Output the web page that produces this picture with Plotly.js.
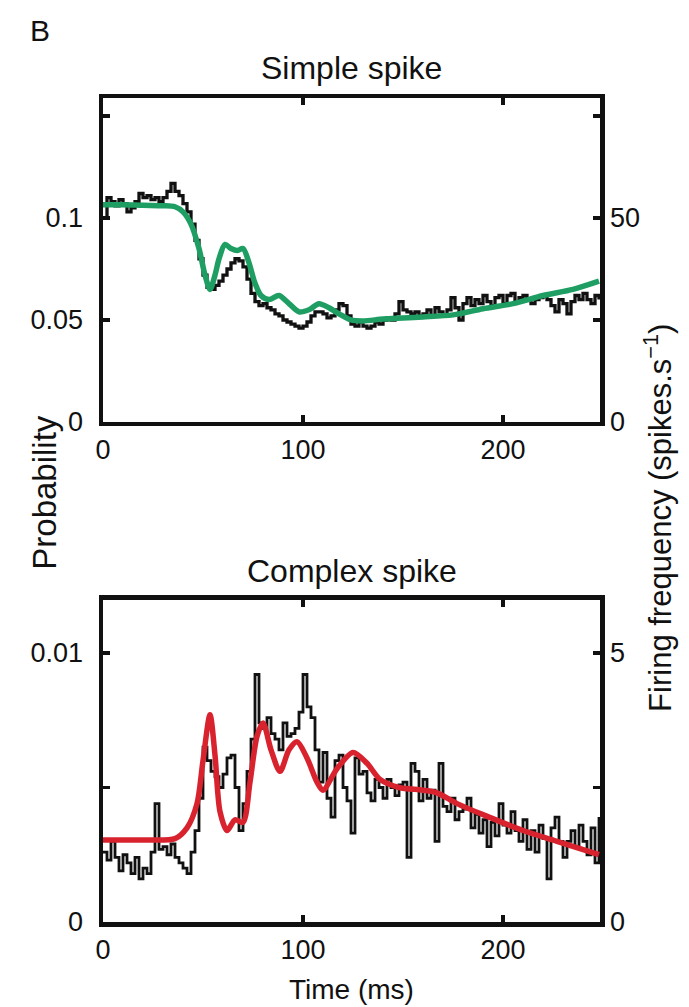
<!DOCTYPE html>
<html>
<head>
<meta charset="utf-8">
<script src="https://cdn.plot.ly/plotly-3.0.1.min.js"></script>
<style>html,body{margin:0;padding:0;background:#fff;}#chart{width:689px;height:1007px;}</style>
</head>
<body>
<div id="chart"></div>
<script>
// Time bins (ms) for the recorded histograms
const timeBins = [0,2,4,6,8,10,12,14,16,18,20,22,24,26,28,30,32,34,36,38,40,42,44,46,48,50,52,54,56,58,60,62,64,66,68,70,72,74,76,78,80,82,84,86,88,90,92,94,96,98,100,102,104,106,108,110,112,114,116,118,120,122,124,126,128,130,132,134,136,138,140,142,144,146,148,150,152,154,156,158,160,162,164,166,168,170,172,174,176,178,180,182,184,186,188,190,192,194,196,198,200,202,204,206,208,210,212,214,216,218,220,222,224,226,228,230,232,234,236,238,240,242,244,246,248];

// Simple spike: recorded probability (black)
const simpleRecorded = [0.100,0.110,0.108,0.106,0.109,0.107,0.103,0.105,0.108,0.112,0.110,0.111,0.109,0.110,0.108,0.110,0.113,0.117,0.113,0.111,0.107,0.103,0.097,0.089,0.080,0.072,0.066,0.065,0.067,0.069,0.072,0.075,0.078,0.080,0.079,0.076,0.070,0.063,0.059,0.057,0.058,0.056,0.055,0.053,0.052,0.050,0.049,0.048,0.047,0.046,0.047,0.049,0.052,0.054,0.054,0.053,0.051,0.052,0.055,0.058,0.057,0.052,0.048,0.047,0.049,0.047,0.046,0.047,0.049,0.048,0.050,0.051,0.050,0.053,0.059,0.055,0.054,0.053,0.054,0.052,0.053,0.055,0.052,0.056,0.054,0.052,0.055,0.061,0.056,0.050,0.058,0.061,0.057,0.060,0.058,0.062,0.059,0.057,0.061,0.062,0.058,0.062,0.063,0.059,0.061,0.062,0.060,0.058,0.060,0.061,0.062,0.060,0.057,0.054,0.060,0.058,0.053,0.059,0.062,0.060,0.063,0.060,0.058,0.062,0.060];

// Simple spike: model (green)
const simpleModelT = [0,10,20,30,36,40,44,48,51,53.5,56,58,61,64,67,70,73,76,79,83,88,93,98,103,108,113,118,124,130,140,150,160,175,190,205,220,235,248];
const simpleModelP = [0.1065,0.1065,0.1062,0.1060,0.1055,0.1030,0.0970,0.0850,0.0720,0.0650,0.0720,0.0800,0.0870,0.0850,0.0840,0.0850,0.0780,0.0680,0.0620,0.0600,0.0620,0.0580,0.0540,0.0550,0.0580,0.0560,0.0530,0.0500,0.0495,0.0505,0.0510,0.0515,0.0525,0.0555,0.0580,0.0620,0.0650,0.0690];

// Complex spike: recorded probability (black)
const complexRecorded = [0.0026,0.0023,0.0030,0.0024,0.0019,0.0025,0.0022,0.0018,0.0024,0.0016,0.0020,0.0018,0.0026,0.0044,0.0027,0.0028,0.0025,0.0029,0.0024,0.0022,0.0020,0.0018,0.0026,0.0034,0.0046,0.0065,0.0060,0.0056,0.0054,0.0050,0.0055,0.0061,0.0062,0.0050,0.0034,0.0044,0.0056,0.0068,0.0092,0.0074,0.0072,0.0076,0.0070,0.0068,0.0064,0.0074,0.0069,0.0070,0.0072,0.0078,0.0092,0.0080,0.0076,0.0064,0.0052,0.0063,0.0046,0.0039,0.0060,0.0062,0.0050,0.0045,0.0033,0.0061,0.0055,0.0056,0.0048,0.0045,0.0053,0.0050,0.0046,0.0053,0.0050,0.0047,0.0051,0.0052,0.0024,0.0059,0.0056,0.0045,0.0053,0.0046,0.0049,0.0030,0.0059,0.0043,0.0041,0.0046,0.0038,0.0041,0.0042,0.0046,0.0035,0.0040,0.0033,0.0038,0.0028,0.0037,0.0032,0.0044,0.0036,0.0033,0.0041,0.0034,0.0030,0.0038,0.0027,0.0034,0.0026,0.0036,0.0031,0.0016,0.0035,0.0039,0.0030,0.0024,0.0030,0.0034,0.0028,0.0036,0.0030,0.0025,0.0035,0.0022,0.0039];

// Complex spike: model (red)
const complexModelT = [0,20,36,42,47,50,53.5,56,58.5,62,66,70,73.5,77,80,84,88.5,93,97,102,107,110,117,125,132,138.5,148,160,167,177,193,210,227,248];
const complexModelP = [0.00305,0.00305,0.0031,0.0035,0.0044,0.0060,0.0077,0.0062,0.0041,0.0034,0.0038,0.0037,0.0052,0.0069,0.0074,0.0064,0.0056,0.0064,0.0067,0.0061,0.0052,0.0049,0.0057,0.0063,0.0059,0.0053,0.0050,0.0049,0.0048,0.0044,0.0039,0.0034,0.0030,0.0025];

// Tick values and labels
const xTicks = [0,100,200];
const xTickText = ['0','100','200'];
const simpleProbTicks = [0,0.05,0.1];
const simpleProbText = ['0','0.05','0.1'];
const simpleProbMinor = [0.15];
const simpleFreqTicks = [0,50];
const simpleFreqText = ['0','50'];
const simpleFreqMinor = [25,75];
const complexProbTicks = [0,0.01];
const complexProbText = ['0','0.01'];
const complexProbMinor = [0.005];
const complexFreqTicks = [0,5];
const complexFreqText = ['0','5'];
const complexFreqMinor = [2.5];

const FONT = 'Liberation Sans, Arial, sans-serif';
const INK = '#111';
const tickFont = {family: FONT, size: 27, color: INK};

const traces = [
  {x: timeBins, y: simpleRecorded, xaxis:'x', yaxis:'y', mode:'lines', line:{color:INK, width:3.3, shape:'hv'}, showlegend:false, hoverinfo:'skip'},
  {x: simpleModelT, y: simpleModelP, xaxis:'x', yaxis:'y', mode:'lines', line:{color:'#1f9e63', width:5.5, shape:'spline', smoothing:0.8}, showlegend:false, hoverinfo:'skip'},
  {x: [], y: [], xaxis:'x', yaxis:'y2', mode:'lines', showlegend:false, hoverinfo:'skip'},
  {x: timeBins, y: complexRecorded, xaxis:'x2', yaxis:'y3', mode:'lines', line:{color:INK, width:2.8, shape:'hv'}, showlegend:false, hoverinfo:'skip'},
  {x: complexModelT, y: complexModelP, xaxis:'x2', yaxis:'y3', mode:'lines', line:{color:'#d8232f', width:5.5, shape:'spline', smoothing:0.8}, showlegend:false, hoverinfo:'skip'},
  {x: [], y: [], xaxis:'x2', yaxis:'y4', mode:'lines', showlegend:false, hoverinfo:'skip'}
];

function axisBase(extra){
  return Object.assign({
    showline:true, linecolor:INK, linewidth:4.5, ticks:'inside', ticklen:7, tickwidth:3.5, tickcolor:INK,
    showgrid:false, zeroline:false, tickfont:tickFont, fixedrange:true, tickmode:'array'
  }, extra);
}
function minorTicks(vals){
  return {tickmode:'array', tickvals:vals, ticks:'inside', ticklen:7, tickwidth:3.5, tickcolor:INK, showgrid:false};
}

const layout = {
  width: 689, height: 1007,
  margin: {l:103, r:89, t:98, b:85},
  paper_bgcolor:'#fff', plot_bgcolor:'#fff',
  xaxis: axisBase({domain:[0,1], anchor:'y', range:[0,248.5], tickvals:xTicks, ticktext:xTickText, mirror:'ticks'}),
  yaxis: axisBase({domain:[0.6068,1], anchor:'x', range:[0,0.1588], tickvals:simpleProbTicks, ticktext:simpleProbText, minor:minorTicks(simpleProbMinor), ticklabelstandoff:10}),
  yaxis2: axisBase({overlaying:'y', side:'right', anchor:'x', range:[0,79.4], tickvals:simpleFreqTicks, ticktext:simpleFreqText, minor:minorTicks(simpleFreqMinor)}),
  xaxis2: axisBase({domain:[0,1], anchor:'y3', range:[0,248.5], tickvals:xTicks, ticktext:xTickText, mirror:'ticks'}),
  yaxis3: axisBase({domain:[0,0.3908], anchor:'x2', range:[0,0.01197], tickvals:complexProbTicks, ticktext:complexProbText, minor:minorTicks(complexProbMinor), ticklabelstandoff:10}),
  yaxis4: axisBase({overlaying:'y3', side:'right', anchor:'x2', range:[0,5.985], tickvals:complexFreqTicks, ticktext:complexFreqText, minor:minorTicks(complexFreqMinor)}),
  annotations: [
    {text:'B', xref:'paper', yref:'paper', x:-0.15, y:1.082, xanchor:'left', yanchor:'middle', showarrow:false, font:{family:FONT, size:30, color:INK}},
    {text:'Simple spike', xref:'paper', yref:'paper', x:0.5, y:1.036, xanchor:'center', yanchor:'middle', showarrow:false, font:{family:FONT, size:32, color:INK}},
    {text:'Complex spike', xref:'paper', yref:'paper', x:0.5, y:0.4255, xanchor:'center', yanchor:'middle', showarrow:false, font:{family:FONT, size:32, color:INK}},
    {text:'Time (ms)', xref:'paper', yref:'paper', x:0.5, y:-0.082, xanchor:'center', yanchor:'middle', showarrow:false, font:{family:FONT, size:28, color:INK}},
    {text:'Probability', xref:'paper', yref:'paper', x:-0.117, y:0.522, xanchor:'center', yanchor:'middle', textangle:-90, showarrow:false, font:{family:FONT, size:33, color:INK}},
    {text:'Firing frequency (spikes.s<sup>−1</sup>)', xref:'paper', yref:'paper', x:1.118, y:0.49, xanchor:'center', yanchor:'middle', textangle:-90, showarrow:false, font:{family:FONT, size:31, color:INK}}
  ]
};

Plotly.newPlot('chart', traces, layout, {staticPlot:true, displayModeBar:false});
</script>
</body>
</html>
